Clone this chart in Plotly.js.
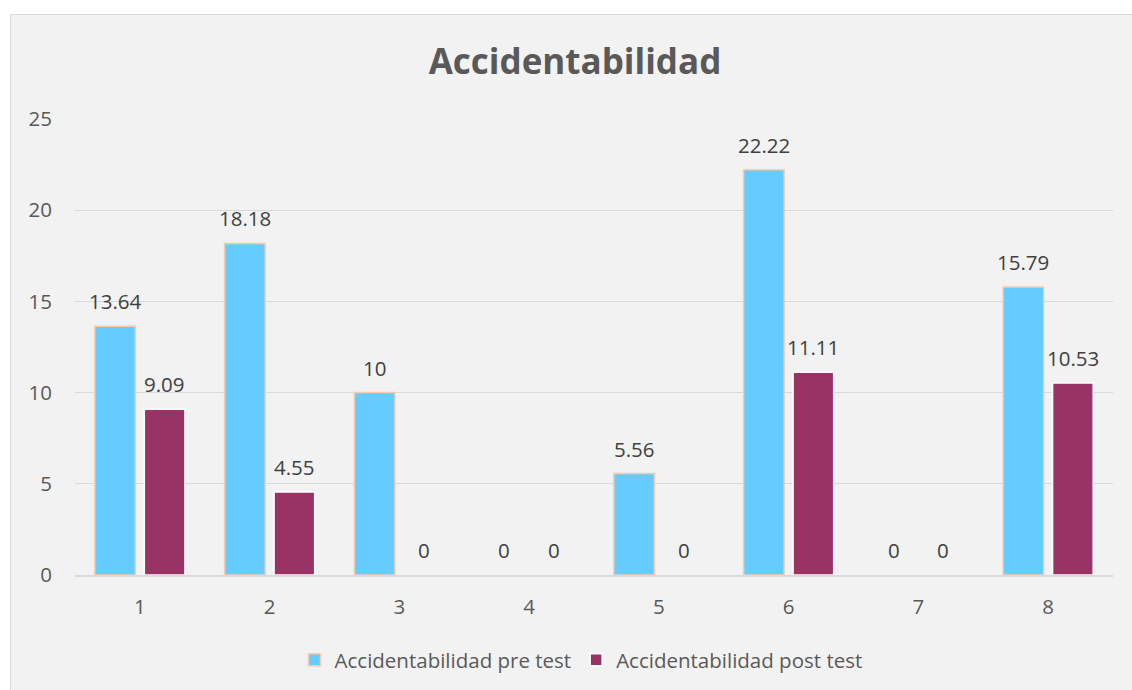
<!DOCTYPE html>
<html>
<head>
<meta charset="utf-8">
<script src="https://cdn.plot.ly/plotly-3.0.1.min.js"></script>
<style>
  html, body { margin: 0; padding: 0; background: #ffffff; overflow: hidden; width: 1132px; height: 690px; }
  #box { position: absolute; left: 10px; top: 14px; width: 1128px; height: 683px; border: 1px solid #d9d9d9; background: #f2f2f2; }
  #chart { width: 1128px; height: 683px; }
</style>
</head>
<body>
<div id="box"><div id="chart"></div></div>
<script>
const categories = ["1", "2", "3", "4", "5", "6", "7", "8"];
const preTest = [13.64, 18.18, 10, 0, 5.56, 22.22, 0, 15.79];
const postTest = [9.09, 4.55, 0, 0, 0, 11.11, 0, 10.53];
const preLabels = ["13.64", "18.18", "10", "0", "5.56", "22.22", "0", "15.79"];
const postLabels = ["9.09", "4.55", "0", "0", "0", "11.11", "0", "10.53"];
const seriesNames = ["Accidentabilidad pre test", "Accidentabilidad post test"];

const FONT = "Open Sans, Noto Sans, sans-serif";

const traces = [
  {
    type: "bar", name: seriesNames[0], x: categories, y: preTest,
    marker: { color: "#66ccff", line: { color: "#f8cbad", width: preTest.map(v => v === 0 ? 0 : 1.5) } },
    hoverinfo: "none"
  },
  {
    type: "bar", name: seriesNames[1], x: categories, y: postTest,
    marker: { color: "#993366", line: { color: "#ffffff", width: postTest.map(v => v === 0 ? 0 : 1.5) } },
    hoverinfo: "none"
  }
];

const annotations = [];
categories.forEach((c, i) => {
  annotations.push({ x: i, y: preTest[i], xref: "x", yref: "y", text: preLabels[i], showarrow: false,
    xshift: -24.75, yshift: 25, yanchor: "middle", font: { family: FONT, size: 20.5, color: "#404040" } });
  annotations.push({ x: i, y: postTest[i], xref: "x", yref: "y", text: postLabels[i], showarrow: false,
    xshift: 24.75, yshift: 25, yanchor: "middle", font: { family: FONT, size: 20.5, color: "#404040" } });
});

const layout = {
  width: 1128, height: 683,
  margin: { l: 64, r: 26, t: 104, b: 123 },
  paper_bgcolor: "rgba(0,0,0,0)", plot_bgcolor: "rgba(0,0,0,0)",
  font: { family: FONT, color: "#595959", size: 20.5 },
  title: { text: "<b>Accidentabilidad</b>", x: 0.5, xanchor: "center", xref: "container",
    y: 1 - 47 / 683, yref: "container", yanchor: "middle",
    font: { family: FONT, size: 35, color: "#595959" } },
  barmode: "group", bargap: 0.237, bargroupgap: 0.18,
  xaxis: { type: "category", range: [-0.5, 7.5], autorange: false, showgrid: false, zeroline: false,
    showline: true, linecolor: "#d9d9d9", linewidth: 2,
    ticks: "", ticklabelstandoff: 12, tickfont: { family: FONT, size: 20.5, color: "#595959" } },
  yaxis: { range: [0, 25], autorange: false, dtick: 5, tick0: 0, showgrid: true, gridcolor: "#d9d9d9", gridwidth: 1.3,
    zeroline: false, showline: false, ticks: "", ticklabelstandoff: 22,
    tickfont: { family: FONT, size: 20.5, color: "#595959" } },
  showlegend: true,
  legend: { orientation: "h", x: 0.4875, xanchor: "center", y: -0.186, yanchor: "middle",
    font: { family: FONT, size: 20.5, color: "#595959" }, bgcolor: "rgba(0,0,0,0)", itemwidth: 30 },
  annotations: annotations
};

Plotly.newPlot("chart", traces, layout, { displayModeBar: false, staticPlot: true });
</script>
</body>
</html>
